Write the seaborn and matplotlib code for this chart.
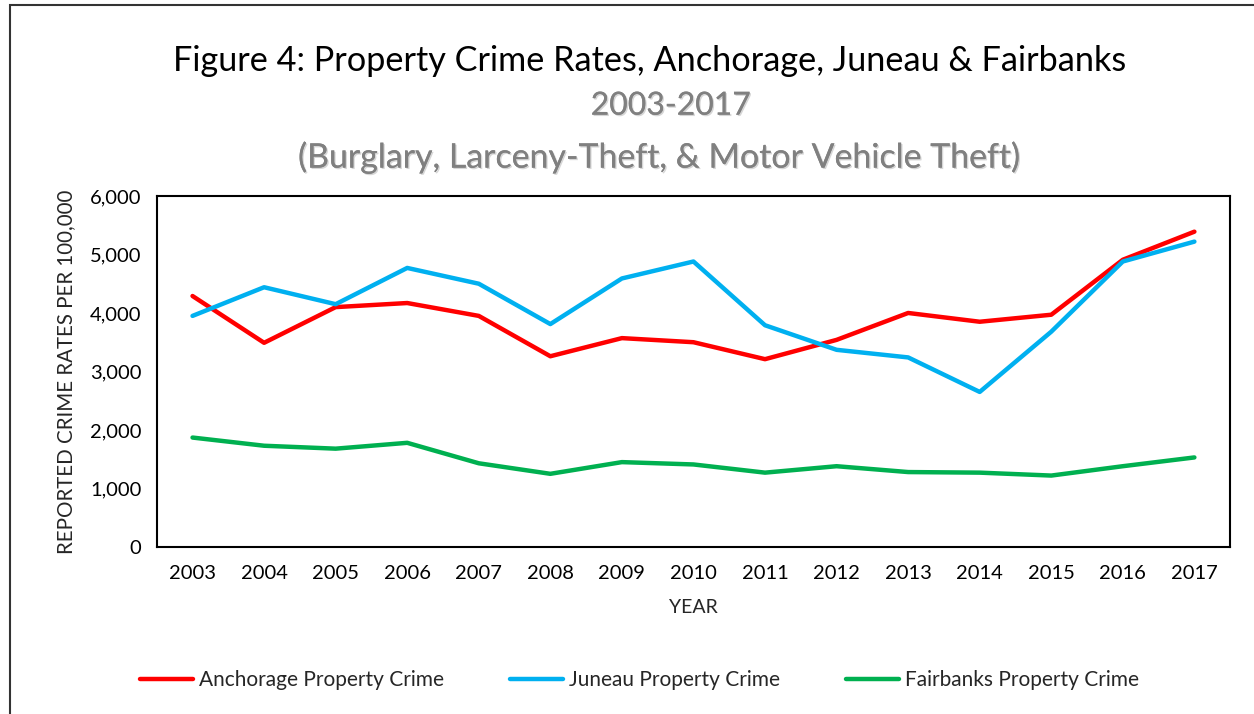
import pandas as pd
import matplotlib.pyplot as plt
import matplotlib.patheffects as pe
from matplotlib.patches import Rectangle
import seaborn as sns

# data
years = ['2003', '2004', '2005', '2006', '2007', '2008', '2009', '2010',
         '2011', '2012', '2013', '2014', '2015', '2016', '2017']
anchorage = [4290, 3490, 4100, 4170, 3950, 3260, 3570, 3500,
             3210, 3540, 4000, 3850, 3970, 4910, 5390]
juneau = [3950, 4440, 4150, 4770, 4500, 3810, 4590, 4880,
          3790, 3370, 3240, 2650, 3680, 4880, 5220]
fairbanks = [1870, 1730, 1680, 1780, 1430, 1250, 1450, 1410,
             1270, 1380, 1280, 1270, 1220, 1380, 1530]
series_names = ['Anchorage Property Crime', 'Juneau Property Crime', 'Fairbanks Property Crime']
colors = ['#FF0000', '#00B0F0', '#00B050']

sns.set_theme(style='white')
plt.rcParams['font.family'] = ['Lato', 'DejaVu Sans']

# long-form table for seaborn
df = pd.DataFrame({
    'year': years * 3,
    'rate': anchorage + juneau + fairbanks,
    'series': [series_names[0]] * 15 + [series_names[1]] * 15 + [series_names[2]] * 15,
})

fig = plt.figure(figsize=(12.54, 7.14), dpi=100)
ax = fig.add_axes([0.125, 0.234, 0.856, 0.4915])

sns.lineplot(data=df, x='year', y='rate', hue='series', palette=colors,
             linewidth=3.2, sort=False, ax=ax, legend=False)

ax.set_xlim(-0.5, 14.5)
ax.set_ylim(0, 6000)
ax.set_yticks(range(0, 6001, 1000))
ax.set_yticklabels([f'{v:,}' for v in range(0, 6001, 1000)])
ax.tick_params(axis='both', length=0, labelsize=14.5, colors='black')
ax.tick_params(axis='x', pad=13)
ax.tick_params(axis='y', pad=11)
ax.set_xlabel('YEAR', fontsize=14, labelpad=12)
ax.set_ylabel('REPORTED CRIME RATES PER 100,000', fontsize=14.8, labelpad=10)
for s in ax.spines.values():
    s.set_color('black')
    s.set_linewidth(1.5)

# titles
fig.text(0.518, 0.915, 'Figure 4: Property Crime Rates, Anchorage, Juneau & Fairbanks',
         ha='center', va='center', fontsize=24.7, color='black')
shadow = [pe.withSimplePatchShadow(offset=(1, -1), shadow_rgbFace='#bbbbbb', alpha=0.6), pe.Normal()]
fig.text(0.535, 0.852, '2003-2017', ha='center', va='center', fontsize=23,
         color='#808080', path_effects=shadow)
fig.text(0.5255, 0.78, '(Burglary, Larceny-Theft, & Motor Vehicle Theft)', ha='center',
         va='center', fontsize=24.4, color='#808080', path_effects=shadow)

# legend
handles = [plt.Line2D([], [], color=c, linewidth=3.2) for c in colors]
fig.legend(handles, series_names, loc='center', bbox_to_anchor=(0.51, 0.047), ncol=3,
           frameon=False, fontsize=15, handlelength=2.55, handletextpad=0.25,
           columnspacing=3.2)

# outer chart border (cropped at right and bottom)
fig.patches.append(Rectangle((10 / 1254, -0.05), 1.1, 0.05 + 1 - 5 / 714,
                             transform=fig.transFigure, fill=False,
                             edgecolor='#333333', linewidth=1.5))

fig.savefig('out.png', dpi=100)
